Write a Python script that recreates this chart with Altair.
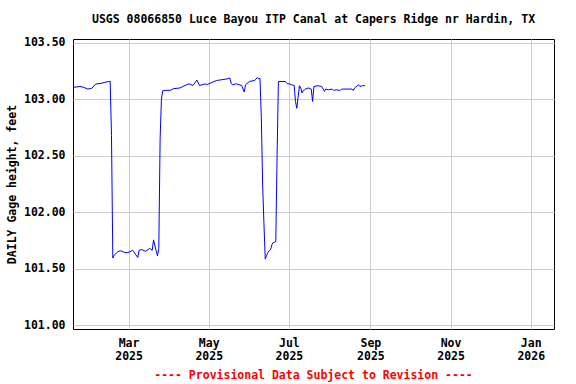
import altair as alt
import pandas as pd

# Daily gage height readings (feet)
dates = [
    "2025-01-18", "2025-01-23", "2025-01-26", "2025-01-29", "2025-02-01", "2025-02-04",
    "2025-02-08", "2025-02-11", "2025-02-14", "2025-02-15", "2025-02-16", "2025-02-17",
    "2025-02-18", "2025-02-21", "2025-02-23", "2025-02-26", "2025-02-28", "2025-03-02",
    "2025-03-04", "2025-03-05", "2025-03-08", "2025-03-09", "2025-03-11", "2025-03-14",
    "2025-03-15", "2025-03-17", "2025-03-19", "2025-03-20", "2025-03-22", "2025-03-23",
    "2025-03-24", "2025-03-25", "2025-03-26", "2025-03-27", "2025-03-28", "2025-04-02",
    "2025-04-04", "2025-04-09", "2025-04-13", "2025-04-16", "2025-04-19", "2025-04-22",
    "2025-04-24", "2025-04-28", "2025-04-30", "2025-05-04", "2025-05-07", "2025-05-11",
    "2025-05-15", "2025-05-17", "2025-05-18", "2025-05-19", "2025-05-22", "2025-05-26",
    "2025-05-28", "2025-05-29", "2025-06-01", "2025-06-05", "2025-06-07", "2025-06-08",
    "2025-06-09", "2025-06-10", "2025-06-11", "2025-06-12", "2025-06-13", "2025-06-14",
    "2025-06-15", "2025-06-16", "2025-06-17", "2025-06-18", "2025-06-19", "2025-06-20",
    "2025-06-21", "2025-06-22", "2025-06-23", "2025-06-28", "2025-06-29", "2025-06-30",
    "2025-07-01", "2025-07-03", "2025-07-05", "2025-07-06", "2025-07-07", "2025-07-09",
    "2025-07-10", "2025-07-11", "2025-07-12", "2025-07-13", "2025-07-14", "2025-07-16",
    "2025-07-18", "2025-07-19", "2025-07-20", "2025-07-23", "2025-07-26", "2025-07-28",
    "2025-07-29", "2025-07-31", "2025-08-03", "2025-08-04", "2025-08-06", "2025-08-09",
    "2025-08-10", "2025-08-18", "2025-08-19", "2025-08-20", "2025-08-23", "2025-08-24",
    "2025-08-26", "2025-08-28",
]
gage_height = [
    103.105, 103.113, 103.105, 103.090, 103.097, 103.135,
    103.140, 103.150, 103.157, 103.160, 102.680, 101.595,
    101.620, 101.653, 101.660, 101.645, 101.644, 101.650,
    101.665, 101.650, 101.600, 101.665, 101.670, 101.655,
    101.665, 101.680, 101.665, 101.756, 101.660, 101.615,
    101.680, 102.650, 103.000, 103.075, 103.078, 103.080,
    103.093, 103.100, 103.122, 103.137, 103.122, 103.170,
    103.122, 103.135, 103.131, 103.152, 103.166, 103.173,
    103.180, 103.188, 103.143, 103.128, 103.137, 103.122,
    103.064, 103.128, 103.158, 103.166, 103.193, 103.180,
    103.185, 102.840, 102.250, 101.900, 101.586, 101.620,
    101.644, 101.660, 101.668, 101.712, 101.733, 101.735,
    101.740, 102.500, 103.157, 103.157, 103.149, 103.135,
    103.137, 103.128, 103.122, 102.980, 102.920, 103.120,
    103.100, 103.055, 103.078, 103.084, 103.093, 103.100,
    103.090, 102.980, 103.113, 103.120, 103.113, 103.070,
    103.090, 103.084, 103.090, 103.078, 103.084, 103.078,
    103.090, 103.090, 103.078, 103.100, 103.128, 103.113,
    103.120, 103.120,
]

y_ticks = [101.0, 101.5, 102.0, 102.5, 103.0, 103.5]
x_ticks = [(2025, 3), (2025, 5), (2025, 7), (2025, 9), (2025, 11), (2026, 1)]

title_text = "USGS 08066850 Luce Bayou ITP Canal at Capers Ridge nr Hardin, TX"
y_title = "DAILY Gage height, feet"
footer = "---- Provisional Data Subject to Revision ----"

df = pd.DataFrame({"date": dates, "gage": gage_height})

FONT = "DejaVu Sans Mono"
FS = 11.5

x_enc = alt.X(
    "date:T",
    scale=alt.Scale(
        type="utc",
        domain=[
            alt.DateTime(year=2025, month=1, date=17, hours=17, utc=True),
            alt.DateTime(year=2026, month=1, date=18, hours=17, utc=True),
        ],
    ),
    axis=alt.Axis(
        values=[alt.DateTime(year=y, month=m, date=1, utc=True) for y, m in x_ticks],
        labelExpr="[utcFormat(datum.value, '%b'), utcFormat(datum.value, '%Y')]",
        labelLineHeight=13,
        labelPadding=8,
        labelFont=FONT,
        labelFontSize=FS,
        labelFontWeight="bold",
        labelColor="black",
        ticks=False,
        domain=False,
        grid=True,
        gridColor="#cccccc",
        gridWidth=1,
        title=footer,
        titleColor="#ff0000",
        titleFont=FONT,
        titleFontSize=FS,
        titleFontWeight="bold",
        titleX=240,
        titleY=46,
        titleAlign="center",
        titleBaseline="middle",
    ),
)

y_enc = alt.Y(
    "gage:Q",
    scale=alt.Scale(domain=[100.968, 103.533], nice=False, zero=False),
    axis=alt.Axis(
        values=y_ticks,
        format=".2f",
        labelPadding=8,
        labelFont=FONT,
        labelFontSize=FS,
        labelFontWeight="bold",
        labelColor="black",
        ticks=False,
        domain=False,
        grid=True,
        gridColor="#cccccc",
        gridWidth=1,
        title=y_title,
        titleFont=FONT,
        titleFontSize=FS,
        titleFontWeight="bold",
        titleColor="black",
        titleAngle=270,
        titleX=-61,
        titleY=145,
        titleAlign="center",
        titleBaseline="middle",
    ),
)

line = alt.Chart(df).mark_line(color="#0000ff", strokeWidth=1, clip=True).encode(
    x=x_enc, y=y_enc
)

chart = (
    line.properties(
        width=481,
        height=290,
        title=alt.TitleParams(
            text=title_text,
            anchor="middle",
            font=FONT,
            fontSize=FS,
            fontWeight="bold",
            color="black",
            baseline="middle",
            offset=5,
        ),
        autosize=alt.AutoSizeParams(type="none"),
        padding={"left": 73, "top": 39, "right": 22, "bottom": 55},
        background="white",
    )
    .configure_view(stroke="black", strokeWidth=1)
)

chart.save("out.html", embed_options={"renderer": "svg", "actions": False})
